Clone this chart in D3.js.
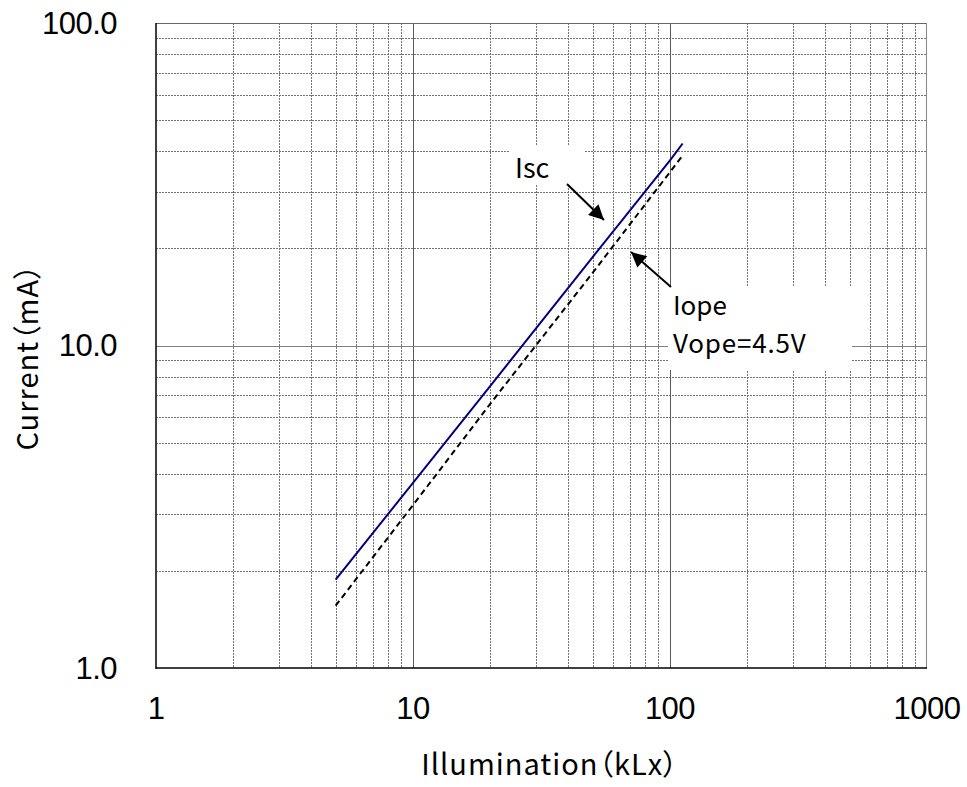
<!DOCTYPE html>
<meta charset="utf-8">
<style>
  body { margin: 0; background: #fff; }
  text { fill: #000; }
</style>
<svg width="967" height="787"></svg>
<script src="https://d3js.org/d3.v7.min.js"></script>
<script>

// data
var illum = [5, 10, 20, 50, 100, 112];
var isc = [1.88, 3.75, 7.5, 18.8, 37.5, 42.3];
var iope = [1.56, 3.2, 6.6, 16.8, 34.5, 38.8];
var xTicks = [1, 10, 100, 1000];
var xTickLabels = ["1", "10", "100", "1000"];
var yTicks = [1, 10, 100];
var yTickLabels = ["1.0", "10.0", "100.0"];

var svg = d3.select("svg");

// plot box
var pLeft = 156, pRight = 927, pTop = 23, pBottom = 668;

var numFont = "Liberation Sans, Arial, sans-serif";
var jpFont = "Noto Sans CJK JP, sans-serif";
var gridColor = "#747474";

var x = d3.scaleLog().domain([1, 1000]).range([pLeft, pRight]);
var y = d3.scaleLog().domain([1, 100]).range([pBottom, pTop]);

// minor grid values
var xMinor = [], yMinor = [];
[1, 10, 100].forEach(function(d) {
  for (var k = 2; k <= 9; k++) xMinor.push(d * k);
});
[1, 10].forEach(function(d) {
  for (var k = 2; k <= 9; k++) yMinor.push(d * k);
});

var grid = svg.append("g");

grid.selectAll(".vminor").data(xMinor).enter().append("line")
    .attr("x1", function(d) { return Math.round(x(d)) + 0.5; })
    .attr("x2", function(d) { return Math.round(x(d)) + 0.5; })
    .attr("y1", pTop).attr("y2", pBottom)
    .attr("stroke", gridColor)
    .attr("stroke-dasharray", "2,1");

grid.selectAll(".hminor").data(yMinor).enter().append("line")
    .attr("y1", function(d) { return Math.round(y(d)) + 0.5; })
    .attr("y2", function(d) { return Math.round(y(d)) + 0.5; })
    .attr("x1", pLeft).attr("x2", pRight)
    .attr("stroke", gridColor)
    .attr("stroke-dasharray", "2,1");

grid.selectAll(".vmajor").data([10, 100]).enter().append("line")
    .attr("x1", function(d) { return Math.round(x(d)) + 0.5; })
    .attr("x2", function(d) { return Math.round(x(d)) + 0.5; })
    .attr("y1", pTop).attr("y2", pBottom)
    .attr("stroke", "#5a5a5a");

grid.selectAll(".hmajor").data([10]).enter().append("line")
    .attr("y1", function(d) { return Math.round(y(d)) + 0.5; })
    .attr("y2", function(d) { return Math.round(y(d)) + 0.5; })
    .attr("x1", pLeft).attr("x2", pRight)
    .attr("stroke", "#808080");

// frame
svg.append("line").attr("x1", pLeft).attr("x2", pRight).attr("y1", pTop + 0.5).attr("y2", pTop + 0.5)
    .attr("stroke", "#666");
svg.append("line").attr("x1", pRight - 0.5).attr("x2", pRight - 0.5).attr("y1", pTop).attr("y2", pBottom)
    .attr("stroke", "#888");
svg.append("line").attr("x1", pLeft).attr("x2", pLeft).attr("y1", pTop).attr("y2", pBottom + 1)
    .attr("stroke", "#000").attr("stroke-width", 1.5);
svg.append("line").attr("x1", pLeft).attr("x2", pRight).attr("y1", pBottom).attr("y2", pBottom)
    .attr("stroke", "#000").attr("stroke-width", 1.5);

// white label boxes
svg.append("rect").attr("x", 510).attr("y", 145).attr("width", 74).attr("height", 39).attr("fill", "#fff");
svg.append("rect").attr("x", 668).attr("y", 287).attr("width", 184).attr("height", 83).attr("fill", "#fff");

// lines
var line = d3.line()
    .x(function(d) { return x(d[0]); })
    .y(function(d) { return y(d[1]); });

svg.append("path")
    .datum(d3.zip(illum, iope))
    .attr("d", line)
    .attr("fill", "none")
    .attr("stroke", "#000")
    .attr("stroke-width", 2)
    .attr("stroke-dasharray", "6,4");

svg.append("path")
    .datum(d3.zip(illum, isc))
    .attr("d", line)
    .attr("fill", "none")
    .attr("stroke", "#000080")
    .attr("stroke-width", 2);

// tick labels
svg.selectAll(".ylab").data(yTicks).enter().append("text")
    .attr("x", 117)
    .attr("y", function(d) { return y(d); })
    .attr("dy", "0.35em")
    .attr("text-anchor", "end")
    .style("font-family", numFont)
    .style("font-size", "31px")
    .style("letter-spacing", "-0.5px")
    .text(function(d, i) { return yTickLabels[i]; });

svg.selectAll(".xlab").data(xTicks).enter().append("text")
    .attr("x", function(d) { return x(d); })
    .attr("y", 708)
    .attr("dy", "0.35em")
    .attr("text-anchor", "middle")
    .style("font-family", numFont)
    .style("font-size", "31px")
    .style("letter-spacing", "-0.5px")
    .text(function(d, i) { return xTickLabels[i]; });

// axis titles
svg.append("text")
    .attr("transform", "translate(38,357) rotate(-90)")
    .attr("text-anchor", "middle")
    .style("font-family", jpFont)
    .style("font-size", "29px")
    .style("letter-spacing", "1px")
    .style("font-feature-settings", "'palt'")
    .text("Current（mA）");

svg.append("text")
    .attr("x", 550)
    .attr("y", 775)
    .attr("text-anchor", "middle")
    .style("font-family", jpFont)
    .style("font-size", "29px")
    .style("letter-spacing", "1px")
    .style("font-feature-settings", "'palt'")
    .text("Illumination（kLx）");

// annotations
svg.append("defs").append("marker")
    .attr("id", "arrowhead")
    .attr("viewBox", "0 -5 10 10")
    .attr("refX", 10)
    .attr("refY", 0)
    .attr("orient", "auto")
    .attr("markerUnits", "userSpaceOnUse")
    .attr("markerWidth", 17)
    .attr("markerHeight", 15)
    .append("path")
    .attr("d", "M0,-5L10,0L0,5Z")
    .attr("fill", "#000");

svg.append("line")
    .attr("x1", 567).attr("y1", 184).attr("x2", 604).attr("y2", 220)
    .attr("stroke", "#000").attr("stroke-width", 2)
    .attr("marker-end", "url(#arrowhead)");

svg.append("line")
    .attr("x1", 671).attr("y1", 287).attr("x2", 631).attr("y2", 252)
    .attr("stroke", "#000").attr("stroke-width", 2)
    .attr("marker-end", "url(#arrowhead)");

svg.append("text")
    .attr("x", 515).attr("y", 178)
    .style("font-family", jpFont)
    .style("font-size", "27px")
    .text("Isc");

svg.append("text")
    .attr("x", 673).attr("y", 315)
    .style("font-family", jpFont)
    .style("font-size", "26px")
    .text("Iope");

svg.append("text")
    .attr("x", 673).attr("y", 353)
    .style("font-family", jpFont)
    .style("font-size", "26px")
    .style("letter-spacing", "0.8px")
    .text("Vope=4.5V");

</script>
